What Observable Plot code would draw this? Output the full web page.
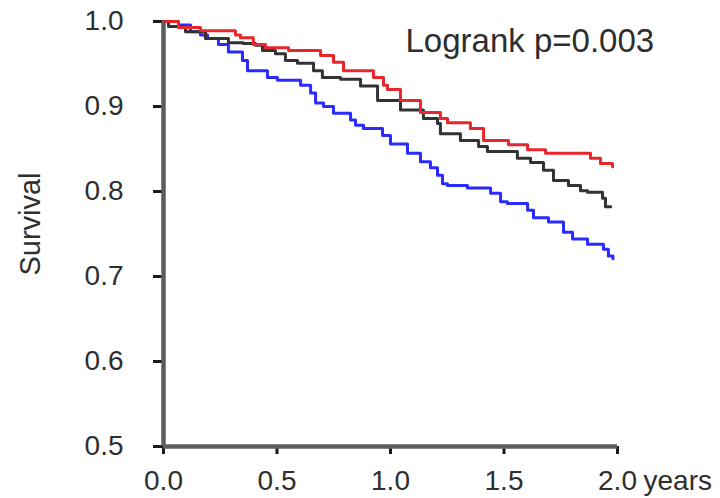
<!DOCTYPE html>
<html>
<head>
<meta charset="utf-8">
<script src="https://cdn.jsdelivr.net/npm/d3@7"></script>
<script src="https://cdn.jsdelivr.net/npm/@observablehq/plot@0.6"></script>
<style>
  html, body { margin: 0; padding: 0; background: #fff; }
  #chart { width: 720px; height: 498px; }
</style>
</head>
<body>
<div id="chart"></div>
<script>
// Kaplan–Meier survival estimates, step points (time in years, survival proportion)
const redTime = [0, 0.066, 0.163, 0.317, 0.339, 0.396, 0.449, 0.551, 0.692, 0.749, 0.793, 0.925, 0.969, 0.987, 1.044, 1.132, 1.220, 1.251, 1.352, 1.410, 1.520, 1.604, 1.683, 1.881, 1.925, 1.978];
const redSurv = [1.000, 0.993, 0.989, 0.984, 0.981, 0.973, 0.969, 0.966, 0.960, 0.952, 0.942, 0.934, 0.925, 0.920, 0.907, 0.893, 0.886, 0.881, 0.874, 0.860, 0.855, 0.849, 0.845, 0.839, 0.833, 0.829];

const blackTime = [0, 0.022, 0.097, 0.185, 0.286, 0.352, 0.405, 0.436, 0.493, 0.537, 0.590, 0.661, 0.700, 0.780, 0.868, 0.943, 1.044, 1.145, 1.207, 1.220, 1.308, 1.388, 1.427, 1.559, 1.617, 1.674, 1.718, 1.784, 1.837, 1.868, 1.934, 1.947, 1.970];
const blackSurv = [1.000, 0.994, 0.988, 0.980, 0.975, 0.974, 0.972, 0.966, 0.962, 0.954, 0.951, 0.942, 0.934, 0.932, 0.924, 0.907, 0.896, 0.886, 0.880, 0.868, 0.860, 0.853, 0.847, 0.839, 0.834, 0.825, 0.813, 0.807, 0.801, 0.799, 0.792, 0.782, 0.782];

const blueTime = [0, 0.066, 0.119, 0.163, 0.194, 0.242, 0.286, 0.348, 0.370, 0.458, 0.502, 0.604, 0.648, 0.670, 0.705, 0.749, 0.824, 0.846, 0.881, 0.965, 1.000, 1.075, 1.132, 1.176, 1.207, 1.229, 1.251, 1.339, 1.441, 1.485, 1.515, 1.604, 1.630, 1.696, 1.762, 1.802, 1.868, 1.938, 1.960, 1.980];
const blueSurv = [1.000, 0.996, 0.988, 0.984, 0.980, 0.973, 0.964, 0.954, 0.942, 0.934, 0.931, 0.925, 0.916, 0.904, 0.900, 0.892, 0.884, 0.878, 0.874, 0.866, 0.856, 0.845, 0.835, 0.828, 0.819, 0.809, 0.807, 0.804, 0.798, 0.788, 0.786, 0.778, 0.769, 0.764, 0.752, 0.744, 0.738, 0.732, 0.724, 0.721];

const xTicks = [0, 0.5, 1.0, 1.5, 2.0];
const yTicks = [0.5, 0.6, 0.7, 0.8, 0.9, 1.0];
const yLabel = "Survival";
const xUnit = "years";
const testLabel = ["Logrank p=0.003"];

const toRows = (t, s) => t.map((d, i) => ({time: d, surv: s[i]}));
const red = toRows(redTime, redSurv);
const black = toRows(blackTime, blackSurv);
const blue = toRows(blueTime, blueSurv);

const font = "Liberation Sans, Arial, Helvetica, sans-serif";
const axisGray = "#5c5c5c";
const textColor = "#2e2e2e";

const chart = Plot.plot({
  width: 720,
  height: 498,
  marginLeft: 163,
  marginRight: 103,
  marginTop: 21,
  marginBottom: 52,
  style: {fontFamily: font, background: "#fff"},
  x: {domain: [0, 2]},
  y: {domain: [0.5, 1]},
  marks: [
    // tick marks and labels
    Plot.axisY({ticks: yTicks, tickFormat: d3.format(".1f"), tickSize: 10, tickPadding: 30,
      fontSize: 28, stroke: "#1a1a1a", strokeWidth: 3, fill: textColor, label: null}),
    Plot.axisX({ticks: xTicks, tickFormat: d3.format(".1f"), tickSize: 8, tickPadding: 16,
      fontSize: 28, stroke: "#1a1a1a", strokeWidth: 3, fill: textColor, label: null}),
    // survival curves
    Plot.line(blue, {x: "time", y: "surv", curve: "step-after", stroke: "#2b2bff", strokeWidth: 3}),
    Plot.line(black, {x: "time", y: "surv", curve: "step-after", stroke: "#333333", strokeWidth: 3}),
    Plot.line(red, {x: "time", y: "surv", curve: "step-after", stroke: "#e8262b", strokeWidth: 3}),
    // axis lines
    Plot.ruleX([0], {y1: 0.5, y2: 1.0, stroke: axisGray, strokeWidth: 4.5}),
    Plot.ruleY([0.5], {x1: 0, x2: 2, stroke: axisGray, strokeWidth: 4.5}),
    // unit after the last x tick
    Plot.text([xUnit], {x: () => 2, y: () => 0.5, text: d => d, textAnchor: "start", lineAnchor: "top",
      dx: 26, dy: 24, fontSize: 28, fill: textColor}),
    // y-axis title
    Plot.text([yLabel], {frameAnchor: "left", text: d => d, rotate: -90, textAnchor: "middle",
      lineAnchor: "middle", dx: -133, dy: -10, fontSize: 29, fill: textColor}),
    // test statistic
    Plot.text(testLabel, {frameAnchor: "top-left", text: d => d, textAnchor: "start", lineAnchor: "top",
      dx: 242, dy: 7, fontSize: 33, fill: textColor})
  ]
});

document.getElementById("chart").append(chart);
</script>
</body>
</html>
